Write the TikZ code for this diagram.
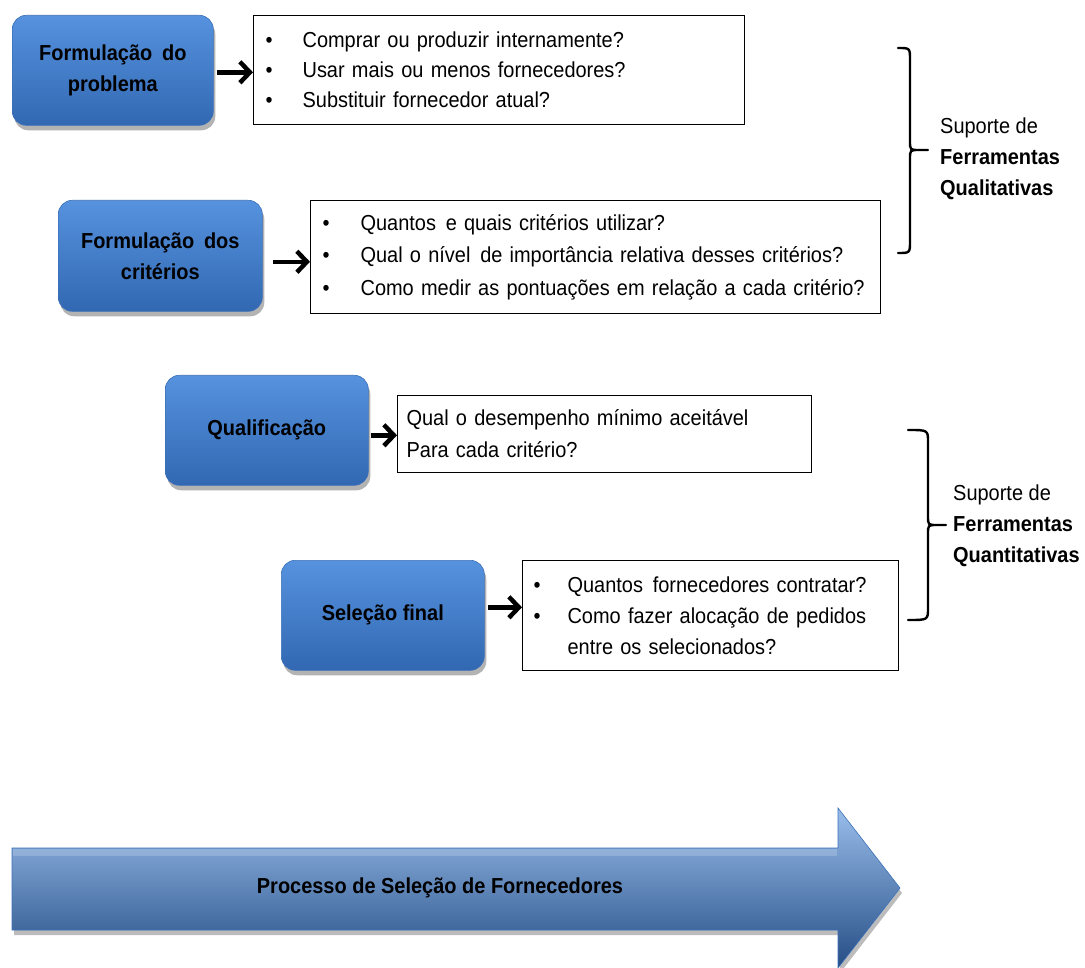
\documentclass[tikz,border=0pt]{standalone}
\usepackage{fontspec}
\setmainfont{Liberation Sans}[FakeStretch=0.92]
\usetikzlibrary{arrows.meta,shadows,calc}

\definecolor{stagetop}{RGB}{86,146,222}
\definecolor{stagemid}{RGB}{66,127,206}
\definecolor{stagebot}{RGB}{50,104,178}
\definecolor{stageedge}{RGB}{60,112,184}

\tikzset{
  stage/.style={
    rounded corners=14pt, draw=stageedge, line width=0.6pt,
    top color=stagetop, middle color=stagemid, bottom color=stagebot,
    drop shadow={shadow xshift=2pt, shadow yshift=-5pt, opacity=0.4, fill=black!75},
    anchor=north west, align=center, text=black,
    font=\fontsize{21.7}{31}\selectfont\bfseries},
  note/.style={
    draw=black, line width=1.2pt, fill=white, anchor=north west,
    align=left, inner xsep=11pt, inner ysep=0pt},
  link/.style={line width=4.5pt, -{Straight Barb[length=10pt, width=21pt]}},
  bracket/.style={line width=2.4pt, line cap=round, line join=round},
  support/.style={anchor=west, align=left, inner sep=0pt,
    font=\fontsize{21.7}{31}\selectfont},
}

\newcommand{\bul}[1]{\makebox[#1][l]{\hspace{1pt}•}}
\newcommand{\wsp}{\hspace{0.45em}}

\begin{document}
\begin{tikzpicture}[x=1pt, y=-1pt]
\useasboundingbox (0,0) rectangle (1085,968);

% process stages
\node[stage, minimum width=201pt, minimum height=110pt] (b1) at (12,15)
  {Formulação\wsp do\\problema};
\node[stage, minimum width=204pt, minimum height=111pt] (b2) at (58,200)
  {Formulação\wsp dos\\critérios};
\node[stage, minimum width=203pt, minimum height=110pt] (b3) at (165,375)
  {Qualificação};
\node[stage, minimum width=203pt, minimum height=110pt] (b4) at (281,560)
  {Seleção final};

% questions of each stage
\node[note, minimum width=491pt, minimum height=109pt, text width=469pt,
      font=\fontsize{21.7}{30}\selectfont] (t1) at (253,15)
  {\bul{38pt}Comprar ou produzir internamente?\\
   \bul{38pt}Usar mais ou menos fornecedores?\\
   \bul{38pt}Substituir fornecedor atual?};
\node[note, minimum width=570pt, minimum height=113pt, text width=548pt,
      font=\fontsize{21.7}{32.5}\selectfont] (t2) at (310,200)
  {\bul{39pt}Quantos\wsp e quais critérios utilizar?\\
   \bul{39pt}Qual o nível\wsp de importância relativa desses critérios?\\
   \bul{39pt}Como medir as pontuações em relação a cada critério?};
\node[note, minimum width=414pt, minimum height=77pt, text width=396pt,
      inner xsep=9pt, font=\fontsize{21.7}{32}\selectfont] (t3) at (397,395)
  {Qual o desempenho mínimo aceitável\\
   Para cada critério?};
\node[note, minimum width=376pt, minimum height=110pt, text width=356pt,
      inner xsep=10pt, font=\fontsize{21.7}{31}\selectfont] (t4) at (522,560)
  {\bul{35pt}Quantos\wsp fornecedores contratar?\\
   \bul{35pt}Como fazer alocação de pedidos\\
   \hspace*{35pt}entre os selecionados?};

% connectors
\draw[link, shorten <=3pt] ([yshift=-2pt]b1.east) -- ([yshift=-2pt]b1.east -| t1.west);
\draw[link, shorten <=10pt] ([yshift=-6pt]b2.east) -- ([yshift=-6pt]b2.east -| t2.west);
\draw[link, shorten <=2pt] ([yshift=-5pt]b3.east) -- ([yshift=-5pt]b3.east -| t3.west);
\draw[link, shorten <=3pt] ([yshift=8pt]b4.east) -- ([yshift=8pt]b4.east -| t4.west);

% braces
\draw[bracket] (898,48) .. controls (910,48) .. (910,60) -- (910,141)
  .. controls (910,150) .. (919,150) -- (928,150)
  (919,150) .. controls (910,150) .. (910,159) -- (910,241)
  .. controls (910,253) .. (898,253);
\draw[bracket] (908,430) .. controls (928,430) .. (928,442) -- (928,516)
  .. controls (928,525) .. (937,525) -- (946,525)
  (937,525) .. controls (928,525) .. (928,534) -- (928,608)
  .. controls (928,620) .. (908,620);

\node[support] (s1) at (940,159)
  {Suporte de\\\textbf{Ferramentas}\\\textbf{Qualitativas}};
\node[support] (s2) at (953,526)
  {Suporte de\\\textbf{Ferramentas}\\\textbf{Quantitativas}};

% overall process arrow
\path[top color=stagetop!60!white, middle color=stagemid, bottom color=stagebot!75!black,
      draw=stageedge, line width=0.6pt,
      drop shadow={shadow xshift=2pt, shadow yshift=-5pt, opacity=0.35, fill=black!75}]
  (12,848) -- (838,848) -- (838,808) -- (900,888) -- (838,968) -- (838,930) -- (12,930) -- cycle;
% soft highlight along the top of the shaft
\fill[white, opacity=0.18] (13,849) rectangle (837,856);
\node[font=\fontsize{21.7}{24}\selectfont\bfseries] (proc) at (440,888)
  {Processo de Seleção de Fornecedores};
\end{tikzpicture}
\end{document}
